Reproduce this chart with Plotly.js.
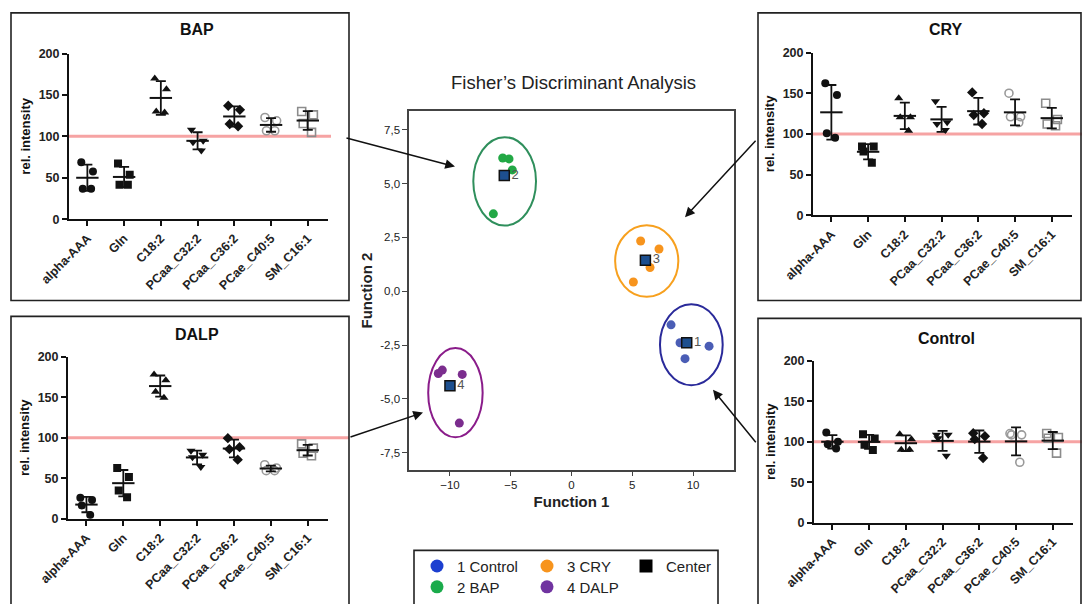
<!DOCTYPE html>
<html><head><meta charset="utf-8">
<script src="https://cdn.plot.ly/plotly-3.0.1.min.js"></script>
<style>html,body{margin:0;padding:0;background:#fff}#chart{width:1083px;height:604px}</style>
</head><body><div id="chart"></div>
<script>
// ---------- DATA ----------
const categories = ['alpha-AAA','Gln','C18:2','PCaa_C32:2','PCaa_C36:2','PCae_C40:5','SM_C16:1'];

const bapValues = [[68.8,57.6,36.8,36.8],[67.2,53.6,41.6,41.6],[170,156.8,128.8,130],[108,82.8,92.8,94.8],[136.9,132,115,112.2],[122.8,118.8,106.8,106.8],[126,130,115.6,104.8]];
const dalpValues = [[25.8,23,16.4,4.5],[62.7,51.6,34.8,26.6],[178.3,171.3,157,149.6],[84,76,79,64],[99.6,88.5,86,73],[62.7,66.8,59.4,59.4],[92.6,87.3,81,77.9]];
const cryValues = [[162.4,147.8,100.8,95.1],[84.5,84.5,78.4,64.5],[143.7,120.4,120.4,104],[140,114.3,112.2,104.9],[151,125.3,123.3,112.2],[150,121,121,114],[137.6,117.6,112.2,110]];
const controlValues = [[111.4,100,97,91.8],[109.4,104,96.3,89.8],[109.4,103.3,90.2,90.2],[108.6,108.6,104.5,82.9],[106.9,110.6,103.3,80],[108.6,110.2,108.6,74.7],[104.5,110.2,105.3,86]];
const yTicks = [0,50,100,150,200];
const referenceLevel = 100;

const groupNames = ['1 Control','2 BAP','3 CRY','4 DALP'];
const controlF1 = [8.19,8.93,11.32,9.34];   const controlF2 = [-1.56,-2.39,-2.55,-3.13];
const bapF1 = [-5.66,-5.14,-4.87,-6.43];     const bapF2 = [6.18,6.14,5.63,3.59];
const cryF1 = [5.69,7.2,6.46,5.09];          const cryF2 = [2.33,1.96,1.10,0.43];
const dalpF1 = [-10.96,-10.63,-8.99,-9.23];  const dalpF2 = [-3.82,-3.66,-3.86,-6.12];
const centerF1 = [9.48,-5.53,6.08,-10.0];
const centerF2 = [-2.39,5.37,1.44,-4.39];
const centerLabels = ['1','2','3','4'];
const ellipseCx = [9.86,-5.5,6.19,-9.55];
const ellipseCy = [-2.48,5.1,1.4,-4.71];
const ellipseRx = [2.58,2.58,2.6,2.24];
const ellipseRy = [1.88,2.05,1.66,2.07];
const f1Ticks = [-10,-5,0,5,10];
const f2Ticks = [-7.5,-5,-2.5,0,2.5,5,7.5];
const f2TickText = ['-7,5','-5,0','-2,5','0,0','2,5','5,0','7,5'];

// ---------- STYLE ----------
const W = 1083, H = 604;
const px = v => v / W, py = v => 1 - v / H;
const FONT = 'Arial, "Liberation Sans", sans-serif';
const INK = '#111';
const symbols = ['circle','square','triangle-up','triangle-down','diamond','circle-open','square-open'];
const symColors = [INK,INK,INK,INK,INK,'#9a9a9a','#8c8c8c'];

const panels = [
  {name:'BAP', values:bapValues, ax:'', x:[69,328], y:[54,221], title:[197,30], redEnd:331},
  {name:'DALP', values:dalpValues, ax:'2', x:[68,328], y:[360,523], title:[197,337], redEnd:349},
  {name:'CRY', values:cryValues, ax:'3', x:[813,1072], y:[53,217], title:[946,30], redEnd:1082},
  {name:'Control', values:controlValues, ax:'4', x:[814,1073], y:[364,527], title:[946,341], redEnd:1082}
];

const traces = [];
const layout = {
  width: W, height: H, margin:{l:0,r:0,t:0,b:0},
  paper_bgcolor:'#fff', plot_bgcolor:'rgba(0,0,0,0)',
  font:{family:FONT, color:'#222'},
  showlegend:true, boxmode:'overlay',
  shapes:[], annotations:[]
};

const mean = a => a.reduce((s,v)=>s+v,0)/a.length;
const sd = a => { const m = mean(a); return Math.sqrt(a.reduce((s,v)=>s+(v-m)*(v-m),0)/(a.length-1)); };

panels.forEach(p => {
  const xa = 'x' + p.ax, ya = 'y' + p.ax;
  p.values.forEach((vals, i) => {
    const open = symbols[i].indexOf('open') >= 0;
    traces.push({
      type:'box', orientation:'v', x: vals.map(() => categories[i]), y: vals,
      xaxis: xa, yaxis: ya, boxpoints:'all', jitter:0.8, pointpos:0,
      fillcolor:'rgba(0,0,0,0)', line:{width:0, color:'rgba(0,0,0,0)'},
      marker:{symbol:symbols[i], size:8, color:symColors[i], line:{width: open ? 1.6 : 0, color:symColors[i]}},
      hoverinfo:'skip', showlegend:false
    });
  });
  traces.push({
    type:'scatter', mode:'markers', x: categories, y: p.values.map(mean),
    xaxis: xa, yaxis: ya, cliponaxis:false,
    marker:{symbol:'line-ew', size:16, color:INK, line:{width:2, color:INK}},
    error_y:{type:'data', array: p.values.map(sd), visible:true, color:INK, thickness:1.8, width:5},
    hoverinfo:'skip', showlegend:false
  });
  const axNum = p.ax;
  layout['xaxis' + axNum] = {
    domain:[px(p.x[0]), px(p.x[1])], anchor: ya, type:'category',
    categoryorder:'array', categoryarray: categories, range:[-0.5, 6.55],
    showline:true, linecolor:INK, linewidth:2, ticks:'outside', ticklen:5, tickwidth:2, tickcolor:INK,
    tickangle:-45, tickfont:{family:FONT, size:12.5, color:'#222', weight:'bold'},
    showgrid:false, zeroline:false, fixedrange:true
  };
  layout['yaxis' + axNum] = {
    domain:[py(p.y[1]), py(p.y[0])], anchor: xa, range:[0,200], tickvals: yTicks,
    showline:true, linecolor:INK, linewidth:2, ticks:'outside', ticklen:5, tickwidth:2, tickcolor:INK,
    tickfont:{family:FONT, size:12.5, color:'#222', weight:'bold'},
    title:{text:'rel. intensity', font:{family:FONT, size:13, color:'#111', weight:'bold'}, standoff:5},
    showgrid:false, zeroline:false, fixedrange:true
  };
  layout.shapes.push({type:'line', xref:'paper', yref: ya, x0:px(p.x[0]), x1:px(p.redEnd),
    y0:referenceLevel, y1:referenceLevel, line:{color:'#f6a3a3', width:3}, layer:'below'});
  layout.annotations.push({xref:'paper', yref:'paper', x:px(p.title[0]), y:py(p.title[1]),
    text:p.name, showarrow:false, xanchor:'center', yanchor:'middle',
    font:{family:FONT, size:16, color:'#111', weight:'bold'}});
});

// panel frames
[[11,13,349,303],[11,319,349,640],[758,13,1081,303],[758,321,1081,640]].forEach(b => {
  layout.shapes.push({type:'rect', xref:'paper', yref:'paper', x0:px(b[0]), x1:px(b[2]), y0:py(b[3]), y1:py(b[1]),
    line:{color:'#222', width:1.6}, fillcolor:'rgba(0,0,0,0)'});
});

// ---------- Discriminant scatter ----------
const ptColors = ['#4a5db5','#22a845','#f7941d','#7b2d8e'];
const ellColors = ['#2a2a9a','#2f8f5c','#f7a01e','#8a1c8a'];
const legColors = ['#1c3fd0','#1aab4b','#f7941d','#7033a0'];
const groupsF1 = [controlF1, bapF1, cryF1, dalpF1];
const groupsF2 = [controlF2, bapF2, cryF2, dalpF2];
groupsF1.forEach((g, i) => {
  traces.push({type:'scatter', mode:'markers', x:g, y:groupsF2[i], xaxis:'x5', yaxis:'y5',
    marker:{size:9, color:ptColors[i]}, showlegend:false, hoverinfo:'skip'});
  layout.shapes.push({type:'circle', xref:'x5', yref:'y5',
    x0: ellipseCx[i]-ellipseRx[i], x1: ellipseCx[i]+ellipseRx[i],
    y0: ellipseCy[i]-ellipseRy[i], y1: ellipseCy[i]+ellipseRy[i],
    line:{color:ellColors[i], width:2}, fillcolor:'rgba(0,0,0,0)'});
});
traces.push({type:'scatter', mode:'markers+text', x:centerF1, y:centerF2, xaxis:'x5', yaxis:'y5',
  text:centerLabels, textposition:'middle right', textfont:{family:FONT, size:13, color:'#555'},
  marker:{symbol:'square', size:10, color:'#1d4f8f', line:{width:1.5, color:'#111'}},
  showlegend:false, hoverinfo:'skip', cliponaxis:false});

layout.xaxis5 = {domain:[px(409), px(734)], anchor:'y5', range:[-13.37,13.37], tickvals:f1Ticks,
  showline:true, mirror:true, linecolor:'#444', linewidth:1.6, ticks:'outside', ticklen:4, tickcolor:'#444',
  tickfont:{family:FONT, size:11.5, color:'#222'}, showgrid:false, zeroline:false, fixedrange:true,
  title:{text:'Function 1', font:{family:FONT, size:15, color:'#222', weight:'bold'}, standoff:6}};
layout.yaxis5 = {domain:[py(474), py(112)], anchor:'x5', range:[-8.30,8.36], tickvals:f2Ticks, ticktext:f2TickText,
  showline:true, mirror:true, linecolor:'#444', linewidth:1.6, ticks:'outside', ticklen:5, tickcolor:'#444',
  tickfont:{family:FONT, size:11.5, color:'#222'}, showgrid:false, zeroline:false, fixedrange:true,
  title:{text:'Function 2', font:{family:FONT, size:15, color:'#222', weight:'bold'}, standoff:4}};
layout.annotations.push({xref:'paper', yref:'paper', x:px(573), y:py(83), text:'Fisher’s Discriminant Analysis',
  showarrow:false, xanchor:'center', yanchor:'middle', font:{family:FONT, size:18.5, color:'#222'}});

// arrows
[[455,168,-110,-29],[685,219,72,-78],[423,416,-74,25],[713,393,44,54]].forEach(a => {
  layout.annotations.push({xref:'paper', yref:'paper', x:px(a[0]), y:py(a[1]), ax:a[2], ay:a[3], text:'',
    showarrow:true, arrowhead:2, arrowsize:1.3, arrowwidth:1.5, arrowcolor:'#111', standoff:0});
});

// legend
layout.shapes.push({type:'rect', xref:'paper', yref:'paper', x0:px(414), x1:px(718), y0:py(640), y1:py(555),
  line:{color:'#222', width:1.6}, fillcolor:'rgba(0,0,0,0)'});
const legendNames = groupNames.concat(['Center']);
const legendPos = [[436,571],[436,592],[546,571],[546,592],[645,571]];
const legendSym = ['circle','circle','circle','circle','square'];
const legendCol = legColors.concat(['#000']);
legendNames.forEach((n, i) => {
  const key = i === 0 ? 'legend' : 'legend' + (i + 1);
  traces.push({type:'scatter', mode:'markers', x:[null], y:[null], xaxis:'x5', yaxis:'y5', name:n,
    legend:key, showlegend:true, marker:{symbol:legendSym[i], size:13, color:legendCol[i]}});
  layout[key] = {x:px(legendPos[i][0]-19), y:py(legendPos[i][1]), xanchor:'left', yanchor:'middle',
    bgcolor:'rgba(0,0,0,0)', borderwidth:0, font:{family:FONT, size:15, color:'#222'}, orientation:'h'};
});

Plotly.newPlot('chart', traces, layout, {staticPlot:true, displayModeBar:false});
</script></body></html>
